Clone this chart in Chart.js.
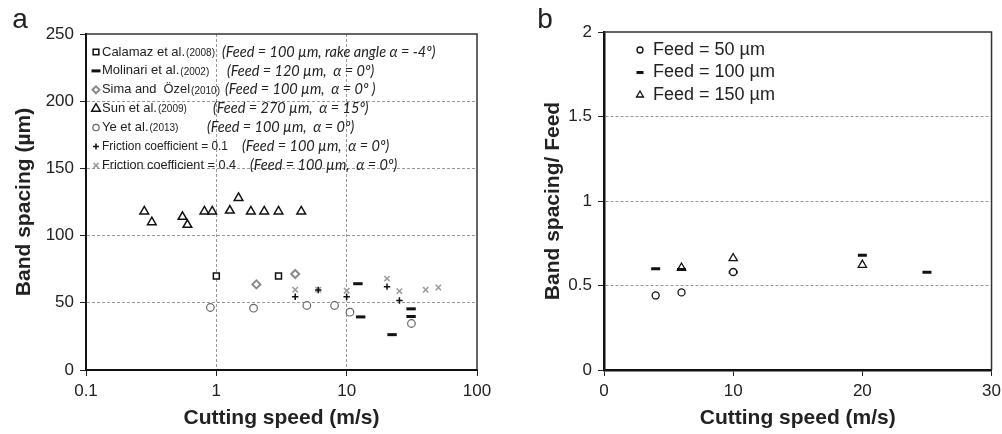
<!DOCTYPE html>
<html lang="en">
<head>
<meta charset="UTF-8">
<title>Band spacing vs cutting speed</title>
<script src="https://cdn.jsdelivr.net/npm/chart.js"></script>
<style>
  body { margin: 0; background: #fff; overflow: hidden; }
  #wrap { position: relative; width: 1002px; height: 434px; overflow: hidden; }
  #chartA { position: absolute; left: 0; top: 0; }
  #chartB { position: absolute; left: 500px; top: 0; }
</style>
</head>
<body>
<div id="wrap">
  <canvas id="chartA" width="500" height="434"></canvas>
  <canvas id="chartB" width="506" height="434"></canvas>
</div>
<script>
// ---- panel a: band spacing (um) vs cutting speed (m/s) ----
const calamazX  = [1.0, 3.0];
const calamazY  = [70, 70];
const molinariX = [12.2, 12.8, 22.3, 31.2, 31.2];
const molinariY = [64.2, 39.5, 26.3, 45.5, 39.8];
const simaX     = [2.03, 4.03];
const simaY     = [63.7, 71.4];
const sunX      = [0.28, 0.32, 0.55, 0.60, 0.81, 0.93, 1.27, 1.48, 1.84, 2.33, 3.0, 4.48];
const sunY      = [118, 110, 114, 108, 118, 118, 118.6, 128, 118, 118, 118, 118];
const yeX       = [0.90, 1.93, 4.95, 8.07, 10.6, 31.4];
const yeY       = [46.5, 46, 48, 48, 43, 34.6];
const fric01X   = [4.03, 6.05, 10.0, 20.4, 25.4];
const fric01Y   = [54.5, 59.5, 54.5, 62, 51.7];
const fric04X   = [4.03, 6.05, 10.0, 20.4, 25.4, 40.4, 50.5];
const fric04Y   = [59.7, 59.7, 59, 68, 58.7, 59.7, 61.4];

const namesA = ['Calamaz et al.', 'Molinari et al.', 'Sima and  Özel', 'Sun et al.', 'Ye et al.',
                'Friction coefficient = 0.1', 'Friction coefficient = 0.4'];
const yearsA = ['(2008)', '(2002)', '(2010)', '(2009)', '(2013)', '', ''];
const condA  = ['(Feed = 100 µm, rake angle α = -4º)', '(Feed = 120 µm,  α = 0º)', '(Feed = 100 µm,  α = 0º )',
                '(Feed = 270 µm,  α = 15º)', '(Feed = 100 µm,  α = 0º)', '(Feed = 100 µm,  α = 0º)',
                '(Feed = 100 µm,  α = 0º)'];
const ticksXA = [0.1, 1, 10, 100];
const ticksYA = [0, 50, 100, 150, 200, 250];

// ---- panel b: band spacing / feed vs cutting speed ----
const feed50X  = [4, 6, 10];
const feed50Y  = [0.441, 0.459, 0.58];
const feed100X = [4, 6, 10, 20, 25];
const feed100Y = [0.599, 0.595, 0.579, 0.679, 0.578];
const feed150X = [6, 10, 20];
const feed150Y = [0.605, 0.661, 0.622];
const namesB = ['Feed = 50 µm', 'Feed = 100 µm', 'Feed = 150 µm'];
const ticksXB = [0, 10, 20, 30];
const ticksYB = [0, 0.5, 1, 1.5, 2];

const FONT = '"Liberation Sans", Arial, sans-serif';
const GRID = '#9a9a9a';
Chart.defaults.font.family = FONT;
Chart.defaults.color = '#222';

function pts(xs, ys) { return xs.map((x, i) => ({x: x, y: ys[i]})); }

// marker styles [pointStyle, radius, borderWidth, color, legendRadius]
const stylesA = [
  ['rect', 4.2, 1.5, '#111', 4],
  ['line', 4.7, 3, '#111', 4.5],
  ['rectRot', 4, 2, '#8a8a8a', 3.5],
  ['triangle', 5, 1.5, '#111', 5],
  ['circle', 3.8, 1.2, '#666', 3.2],
  ['cross', 3.2, 1.5, '#111', 3],
  ['crossRot', 3.8, 1.5, '#999', 3.5]
];
const dataA = [pts(calamazX, calamazY), pts(molinariX, molinariY), pts(simaX, simaY), pts(sunX, sunY),
               pts(yeX, yeY), pts(fric01X, fric01Y), pts(fric04X, fric04Y)];
const condXA = [222, 227, 225, 213, 207, 242, 250];

const stylesB = [
  ['circle', 3.5, 1.3, '#111', 3],
  ['line', 4.5, 3, '#111', 3.5],
  ['triangle', 4.8, 1.3, '#111', 4]
];
const dataB = [pts(feed50X, feed50Y), pts(feed100X, feed100Y), pts(feed150X, feed150Y)];

function makeSets(data, styles, names) {
  return data.map((d, i) => ({
    label: names[i],
    data: d,
    pointStyle: styles[i][0],
    pointRadius: styles[i][1],
    pointHoverRadius: styles[i][1],
    pointBorderWidth: styles[i][2],
    pointBorderColor: styles[i][3],
    pointBackgroundColor: '#fff',
    showLine: false
  }));
}

function marker(ctx, st, x, y, r) {
  ctx.save();
  ctx.strokeStyle = st[3];
  ctx.fillStyle = '#fff';
  ctx.lineWidth = st[2];
  Chart.helpers.drawPoint(ctx, {pointStyle: st[0], radius: r, borderWidth: st[2], rotation: 0}, x, y);
  ctx.restore();
}

function frame(ctx, a) {
  ctx.save();
  ctx.strokeStyle = '#333';
  ctx.lineWidth = 1.5;
  ctx.beginPath();
  ctx.moveTo(a.left, a.top);
  ctx.lineTo(a.right, a.top);
  ctx.lineTo(a.right, a.bottom);
  ctx.stroke();
  ctx.restore();
}

const panelA = {
  id: 'panelA',
  afterDraw(chart) {
    const ctx = chart.ctx, a = chart.chartArea;
    frame(ctx, a);
    ctx.save();
    ctx.fillStyle = '#222';
    ctx.textBaseline = 'middle';
    ctx.font = '28px ' + FONT;
    ctx.textAlign = 'center';
    ctx.fillText('a', 20, 20);
    ctx.textAlign = 'left';
    namesA.forEach((n, i) => {
      const y = a.top + 18 + i * 18.9;
      marker(ctx, stylesA[i], 96, y, stylesA[i][4]);
      ctx.fillStyle = '#222';
      ctx.font = '10px ' + FONT;
      const yw = ctx.measureText(yearsA[i]).width;
      ctx.font = '13px ' + FONT;
      const room = condXA[i] - 102 - yw - (yearsA[i] ? 6 : 14);
      const w = Math.min(ctx.measureText(n).width, room);
      ctx.fillText(n, 102, y, room);
      ctx.font = '10px ' + FONT;
      ctx.fillText(yearsA[i], 102 + w + 1, y + 1);
      ctx.font = 'italic 14.5px Lato, "Open Sans", sans-serif';
      ctx.fillText(condA[i], condXA[i], y);
    });
    ctx.restore();
  }
};

const panelB = {
  id: 'panelB',
  afterDraw(chart) {
    const ctx = chart.ctx, a = chart.chartArea;
    frame(ctx, a);
    ctx.save();
    ctx.fillStyle = '#222';
    ctx.textBaseline = 'middle';
    ctx.font = '28px ' + FONT;
    ctx.textAlign = 'center';
    ctx.fillText('b', 45, 20);
    ctx.textAlign = 'left';
    namesB.forEach((n, i) => {
      const y = a.top + 18 + i * 22.5;
      marker(ctx, stylesB[i], 140, y, stylesB[i][4]);
      ctx.fillStyle = '#222';
      ctx.font = '18px ' + FONT;
      ctx.fillText(n, 153, y);
    });
    ctx.restore();
  }
};

function gridColor(inner) {
  return c => (c.tick && inner.includes(c.tick.value)) ? GRID : 'rgba(0,0,0,0)';
}
function fixTicks(list) {
  return s => { s.ticks = list.map(v => ({value: v})); };
}

const tickFont = {size: 17};
const titleFont = {size: 21, weight: 'bold'};
const plain = v => String(v);

new Chart(document.getElementById('chartA'), {
  type: 'scatter',
  data: {datasets: makeSets(dataA, stylesA, namesA)},
  options: {
    responsive: false,
    animation: false,
    layout: {padding: {top: 34, right: 23, left: 0, bottom: 0}},
    plugins: {legend: {display: false}, tooltip: {enabled: false}},
    scales: {
      x: {
        type: 'logarithmic', min: 0.1, max: 100,
        afterBuildTicks: fixTicks(ticksXA),
        afterFit: s => { s.height = 64; },
        ticks: {font: tickFont, padding: 5, callback: plain, autoSkip: false, maxRotation: 0},
        grid: {color: gridColor([1, 10]), tickColor: '#222', tickLength: 6, lineWidth: 1},
        border: {color: '#111', width: 2, dash: [3, 2]},
        title: {display: true, text: 'Cutting speed (m/s)', font: titleFont, color: '#222', padding: {bottom: 3}}
      },
      y: {
        min: 0, max: 250,
        afterBuildTicks: fixTicks(ticksYA),
        afterFit: s => { s.width = 86; },
        ticks: {font: tickFont, padding: 6, callback: plain},
        grid: {color: gridColor([50, 100, 150, 200]), tickColor: '#222', tickLength: 6, lineWidth: 1},
        border: {color: '#111', width: 2, dash: [3, 2]},
        title: {display: true, text: 'Band spacing (µm)', font: titleFont, color: '#222', padding: {top: 12}}
      }
    }
  },
  plugins: [panelA]
});

new Chart(document.getElementById('chartB'), {
  type: 'scatter',
  data: {datasets: makeSets(dataB, stylesB, namesB)},
  options: {
    responsive: false,
    animation: false,
    layout: {padding: {top: 32, right: 11, left: 0, bottom: 0}},
    plugins: {legend: {display: false}, tooltip: {enabled: false}},
    scales: {
      x: {
        min: 0, max: 30,
        afterBuildTicks: fixTicks(ticksXB),
        afterFit: s => { s.height = 64; },
        ticks: {font: tickFont, padding: 5, maxRotation: 0, callback: plain},
        grid: {color: 'rgba(0,0,0,0)', tickColor: '#222', tickLength: 6},
        border: {color: '#111', width: 2.5},
        title: {display: true, text: 'Cutting speed (m/s)', font: titleFont, color: '#222', padding: {bottom: 3}}
      },
      y: {
        min: 0, max: 2,
        afterBuildTicks: fixTicks(ticksYB),
        afterFit: s => { s.width = 104; },
        ticks: {font: tickFont, padding: 6, callback: plain},
        grid: {color: gridColor([0.5, 1, 1.5]), tickColor: '#222', tickLength: 6, lineWidth: 1},
        border: {color: '#111', width: 2.5, dash: [3, 2]},
        title: {display: true, text: 'Band spacing/ Feed', font: titleFont, color: '#222', padding: {top: 41}}
      }
    }
  },
  plugins: [panelB]
});
</script>
</body>
</html>
